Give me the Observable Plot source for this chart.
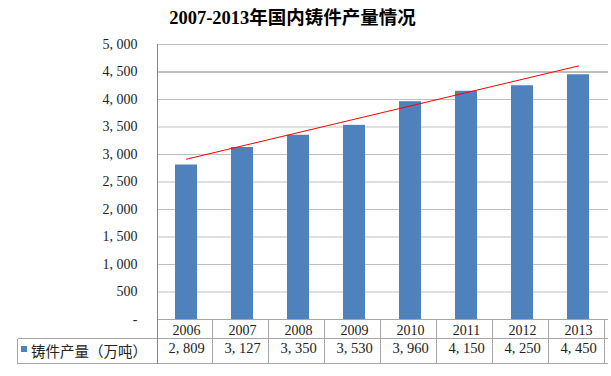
<!DOCTYPE html>
<html><head><meta charset="utf-8">
<script src="https://cdn.jsdelivr.net/npm/d3@7"></script>
<script src="https://cdn.jsdelivr.net/npm/@observablehq/plot@0.6"></script>
<style>
body{margin:0;background:#fff;}
#wrap{width:611px;height:376px;position:relative;overflow:hidden;background:#fff;}
#title{height:34px;line-height:36px;font-weight:bold;font-size:18.5px;font-family:"Liberation Serif","Noto Sans CJK SC",serif;text-align:center;padding-right:26px;color:#000;}
</style></head><body>
<div id="wrap"><div id="title">2007-2013年国内铸件产量情况</div><div id="chart"></div></div>
<script>
const years = ["2006","2007","2008","2009","2010","2011","2012","2013"];
const values = [2809,3127,3350,3530,3960,4150,4250,4450];
const valueLabels = ["2, 809","3, 127","3, 350","3, 530","3, 960","4, 150","4, 250","4, 450"];
const yTicks = [0,500,1000,1500,2000,2500,3000,3500,4000,4500,5000];
const yTickLabels = ["-","500","1, 000","1, 500","2, 000","2, 500","3, 000","3, 500","4, 000","4, 500","5, 000"];
const seriesName = "铸件产量（万吨）";
// trendline endpoints
const trendYears = ["2006","2013"];
const trendValues = [2915, 4610];
const barColor = "#4f81bd";

const data = years.map((year, i) => ({year, value: values[i], label: valueLabels[i]}));
const trend = trendYears.map((year, i) => ({year, value: trendValues[i]}));

const tableRender = (index, scales, vals, dims) => {
  const x = scales.x;
  const [xl, xr] = x.range();
  const step = x.step();
  const yb = dims.height - dims.marginBottom;
  const y1 = Math.round(yb + 19) + 0.5, y2 = Math.round(yb + 44) + 0.5;
  const xLeft = 17.5, xR = Math.round(xr) - 0.5;
  const g = d3.create("svg:g").attr("fill", "none").attr("shape-rendering", "crispEdges");
  const line = (x1, yA, x2, yB, c) => g.append("line").attr("x1", x1).attr("y1", yA).attr("x2", x2).attr("y2", yB).attr("stroke", c);
  const grey = "#a6a6a6";
  line(xl, Math.round(yb) + 0.5, xR, Math.round(yb) + 0.5, grey);
  line(xLeft, y1, xR, y1, grey);
  line(xLeft, y2, xR, y2, grey);
  line(xLeft, y1, xLeft, y2, grey);
  for (let i = 1; i <= years.length; i++) {
    const xx = Math.round(xl + i * step) - 0.5;
    line(xx, yb, xx, y2, grey);
  }
  // left axis line
  line(Math.round(xl) + 0.5, dims.marginTop, Math.round(xl) + 0.5, y2, "#868686");
  // legend key
  g.append("rect").attr("x", 21).attr("y", yb + 27).attr("width", 6).attr("height", 6)
    .attr("fill", barColor).attr("stroke", "none");
  g.append("text").attr("x", 31).attr("y", yb + 32.7).attr("dy", "0.35em")
    .attr("text-anchor", "start")
    .attr("fill", "#222").attr("font-family", "'Noto Sans CJK SC', sans-serif").attr("font-size", 14.5)
    .attr("stroke", "none").text(seriesName);
  return g.node();
};

const chart = Plot.plot({
  width: 611, height: 342,
  marginTop: 10, marginBottom: 57, marginLeft: 157, marginRight: 3,
  style: {fontFamily: "'Liberation Serif', 'Noto Sans CJK SC', serif", fontSize: "14px", color: "#222", background: "#fff"},
  x: {domain: years, paddingInner: 0.6, paddingOuter: 0.3, label: null, tickSize: 0, tickPadding: 6},
  y: {domain: [0, 5000], label: null, ticks: yTicks, tickSize: 0, tickPadding: 20,
      tickFormat: d => yTickLabels[yTicks.indexOf(d)]},
  marks: [
    Plot.ruleY(yTicks.filter(d => d !== 0 && d !== 4500), {stroke: "#bfbfbf"}),
    Plot.ruleY([4500], {stroke: "#808080"}),
    Plot.barY(data, {x: "year", y: "value", fill: barColor}),
    Plot.line(trend, {x: "year", y: "value", stroke: "#ff0000", strokeWidth: 1}),
    tableRender,
    Plot.text(data, {x: "year", text: "label", frameAnchor: "bottom", dy: 33, fontSize: 14.5, fill: "#222"})
  ]
});
document.getElementById("chart").appendChild(chart);
</script>
</body></html>
